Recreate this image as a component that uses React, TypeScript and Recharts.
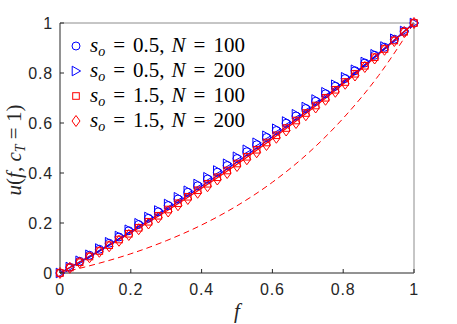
import React from "react";
import { LineChart, Line, XAxis, YAxis } from "recharts";

// sampled f values for the simulation markers
const F = [
  0, 0.0278, 0.0556, 0.0833, 0.1111, 0.1389, 0.1667, 0.1944, 0.2222, 0.25,
  0.2778, 0.3056, 0.3333, 0.3611, 0.3889, 0.4167, 0.4444, 0.4722, 0.5, 0.5278,
  0.5556, 0.5833, 0.6111, 0.6389, 0.6667, 0.6944, 0.7222, 0.75, 0.7778, 0.8056,
  0.8333, 0.8611, 0.8889, 0.9167, 0.9444, 0.9722, 1,
];
// s_o = 0.5, N = 100 (circles)
const S05_N100 = [
  0, 0.023, 0.047, 0.071, 0.095, 0.119, 0.144, 0.169, 0.194, 0.219,
  0.245, 0.27, 0.296, 0.323, 0.349, 0.376, 0.403, 0.43, 0.458, 0.485,
  0.513, 0.542, 0.57, 0.599, 0.628, 0.658, 0.687, 0.717, 0.747, 0.778,
  0.809, 0.84, 0.871, 0.903, 0.935, 0.967, 1,
];
// s_o = 0.5, N = 200 (triangles)
const S05_N200 = [
  0, 0.024, 0.049, 0.073, 0.098, 0.123, 0.148, 0.173, 0.199, 0.224,
  0.25, 0.276, 0.303, 0.329, 0.356, 0.383, 0.41, 0.437, 0.465, 0.493,
  0.521, 0.549, 0.577, 0.606, 0.635, 0.664, 0.694, 0.723, 0.753, 0.783,
  0.813, 0.844, 0.875, 0.906, 0.937, 0.968, 1,
];
// s_o = 1.5, N = 100 (squares)
const S15_N100 = [
  0, 0.022, 0.043, 0.066, 0.088, 0.111, 0.134, 0.157, 0.181, 0.205,
  0.229, 0.254, 0.279, 0.305, 0.331, 0.357, 0.383, 0.41, 0.438, 0.465,
  0.493, 0.522, 0.551, 0.58, 0.61, 0.64, 0.67, 0.701, 0.733, 0.764,
  0.797, 0.829, 0.863, 0.896, 0.93, 0.965, 1,
];
// s_o = 1.5, N = 200 (diamonds)
const S15_N200 = [
  0, 0.021, 0.042, 0.063, 0.085, 0.107, 0.129, 0.152, 0.175, 0.198,
  0.222, 0.246, 0.271, 0.296, 0.321, 0.347, 0.374, 0.4, 0.428, 0.455,
  0.483, 0.512, 0.541, 0.57, 0.6, 0.631, 0.662, 0.693, 0.725, 0.757,
  0.79, 0.824, 0.858, 0.893, 0.928, 0.964, 1,
];

// theory curves
const F_FIT = [0, 0.1, 0.2, 0.3, 0.4, 0.5, 0.6, 0.7, 0.8, 0.9, 1];
const FIT_S05 = [0, 0.081, 0.166, 0.254, 0.347, 0.444, 0.545, 0.651, 0.762, 0.879, 1];
const FIT_S15 = [0, 0.078, 0.161, 0.247, 0.339, 0.435, 0.537, 0.644, 0.756, 0.875, 1];
const FIT_S15_DASH = [0, 0.035, 0.077, 0.129, 0.192, 0.269, 0.363, 0.478, 0.619, 0.79, 1];

const TICKS = [0, 0.2, 0.4, 0.6, 0.8, 1];
const TICK_LABELS = ["0", "0.2", "0.4", "0.6", "0.8", "1"];

const LEGEND = [
  { shape: "circle", color: "#0000ff", so: "0.5", n: "100" },
  { shape: "tri", color: "#0000ff", so: "0.5", n: "200" },
  { shape: "square", color: "#ff0000", so: "1.5", n: "100" },
  { shape: "diamond", color: "#ff0000", so: "1.5", n: "200" },
];

const BLUE = "#0000ff";
const RED = "#ff0000";
const AXIS = "#262626";
const AXIS_LIGHT = "#8c8c8c";
const SANS = "'Liberation Sans', Arial, sans-serif";
const SERIF = "'Liberation Serif', 'Times New Roman', serif";

const markerData = F.map((f, i) => ({
  f,
  c: S05_N100[i],
  t: S05_N200[i],
  sq: S15_N100[i],
  d: S15_N200[i],
}));
const fitData = F_FIT.map((f, i) => ({
  f,
  b: FIT_S05[i],
  r: FIT_S15[i],
  rd: FIT_S15_DASH[i],
}));

function Marker({ shape, cx, cy, color }: any) {
  if (cx == null || cy == null) return null;
  const common = { fill: "none", stroke: color, strokeWidth: 1 };
  if (shape === "circle") return <circle cx={cx} cy={cy} r={4} {...common} />;
  if (shape === "tri")
    return <path d={`M${cx - 3.8},${cy - 4.8}L${cx + 4.6},${cy}L${cx - 3.8},${cy + 4.8}Z`} {...common} />;
  if (shape === "square") return <rect x={cx - 3.3} y={cy - 3.3} width={6.6} height={6.6} {...common} />;
  return <path d={`M${cx},${cy - 5.5}L${cx + 4},${cy}L${cx},${cy + 5.5}L${cx - 4},${cy}Z`} {...common} />;
}

const dotFor = (shape: string, color: string) => (p: any) =>
  <Marker key={`${shape}-${p.index}`} shape={shape} cx={p.cx} cy={p.cy} color={color} />;

const label = (v: number) => TICK_LABELS[TICKS.indexOf(v)] ?? String(v);

const BottomTick = (p: any) => (
  <g>
    <line x1={p.x} y1={p.y} x2={p.x} y2={p.y - 4} stroke={AXIS} />
    <text x={p.x} y={p.y + 22} textAnchor="middle" fontFamily={SANS} fontSize={16} letterSpacing={0.8} fill={AXIS}>
      {label(p.payload.value)}
    </text>
  </g>
);
const LeftTick = (p: any) => (
  <g>
    <line x1={p.x} y1={p.y} x2={p.x + 4} y2={p.y} stroke={AXIS} />
    <text x={p.x - 7} y={p.y + 6} textAnchor="end" fontFamily={SANS} fontSize={16} letterSpacing={0.8} fill={AXIS}>
      {label(p.payload.value)}
    </text>
  </g>
);
const TopTick = (p: any) => <line x1={p.x} y1={p.y} x2={p.x} y2={p.y + 4} stroke={AXIS_LIGHT} />;
const RightTick = (p: any) => <line x1={p.x} y1={p.y} x2={p.x - 4} y2={p.y} stroke={AXIS_LIGHT} />;

function LegendMarker({ shape, color }: any) {
  return (
    <svg width={14} height={14} style={{ display: "block" }}>
      <Marker shape={shape} cx={7} cy={7} color={color} />
    </svg>
  );
}

export default function App() {
  return (
    <div style={{ position: "absolute", left: 0, top: 0, width: 457, height: 324, background: "#fff" }}>
      <LineChart width={457} height={324} margin={{ top: 13, right: 33, bottom: 21, left: 20 }}>
        <XAxis
          dataKey="f"
          type="number"
          domain={[0, 1]}
          ticks={TICKS}
          height={30}
          tickSize={0}
          tickMargin={0}
          tick={<BottomTick />}
          axisLine={{ stroke: AXIS }}
          allowDuplicatedCategory={false}
        />
        <XAxis
          xAxisId="top"
          orientation="top"
          dataKey="f"
          type="number"
          domain={[0, 1]}
          ticks={TICKS}
          height={10}
          tickSize={0}
          tickMargin={0}
          tick={<TopTick />}
          axisLine={{ stroke: AXIS_LIGHT }}
          allowDuplicatedCategory={false}
        />
        <YAxis
          type="number"
          domain={[0, 1]}
          ticks={TICKS}
          width={40}
          tickSize={0}
          tickMargin={0}
          tick={<LeftTick />}
          axisLine={{ stroke: AXIS }}
        />
        <YAxis
          yAxisId="right"
          orientation="right"
          type="number"
          domain={[0, 1]}
          ticks={TICKS}
          width={10}
          tickSize={0}
          tickMargin={0}
          tick={<RightTick />}
          axisLine={{ stroke: AXIS_LIGHT }}
        />
        <Line data={markerData} dataKey="c" stroke="none" dot={dotFor("circle", BLUE)} isAnimationActive={false} />
        <Line data={markerData} dataKey="t" stroke="none" dot={dotFor("tri", BLUE)} isAnimationActive={false} />
        <Line data={markerData} dataKey="sq" stroke="none" dot={dotFor("square", RED)} isAnimationActive={false} />
        <Line data={markerData} dataKey="d" stroke="none" dot={dotFor("diamond", RED)} isAnimationActive={false} />
        <Line data={fitData} dataKey="b" type="monotone" stroke={BLUE} strokeWidth={1.2} dot={false} isAnimationActive={false} />
        <Line data={fitData} dataKey="r" type="monotone" stroke={RED} strokeWidth={1.2} dot={false} isAnimationActive={false} />
        <Line
          data={fitData}
          dataKey="rd"
          type="monotone"
          stroke={RED}
          strokeWidth={1}
          strokeDasharray="6 4"
          dot={false}
          isAnimationActive={false}
        />
      </LineChart>

      <div style={{ position: "absolute", left: 69, top: 33, fontFamily: SERIF, fontSize: 21, color: "#000" }}>
        {LEGEND.map((e) => (
          <div key={e.shape} style={{ display: "flex", alignItems: "center", height: 25 }}>
            <LegendMarker shape={e.shape} color={e.color} />
            <span style={{ marginLeft: 7, whiteSpace: "nowrap" }}>
              <i>s</i>
              <i style={{ fontSize: 14, position: "relative", top: 4 }}>o</i>
              <span style={{ margin: "0 8px" }}>=</span>
              {e.so},<span style={{ marginLeft: 7 }} />
              <i>N</i>
              <span style={{ margin: "0 8px" }}>=</span>
              {e.n}
            </span>
          </div>
        ))}
      </div>

      <svg width={457} height={324} style={{ position: "absolute", left: 0, top: 0, pointerEvents: "none" }}>
        <text transform="translate(21,150) rotate(-90)" textAnchor="middle" fontFamily={SERIF} fontSize={21} fill={AXIS}>
          <tspan fontStyle="italic">u</tspan>(<tspan fontStyle="italic">f</tspan>, <tspan fontStyle="italic">c</tspan>
          <tspan fontStyle="italic" fontSize={14} dy={4}>T</tspan>
          <tspan dy={-4}> = 1)</tspan>
        </text>
        <text x={237} y={318} textAnchor="middle" fontFamily={SERIF} fontSize={21} fontStyle="italic" fill={AXIS}>
          f
        </text>
      </svg>
    </div>
  );
}
